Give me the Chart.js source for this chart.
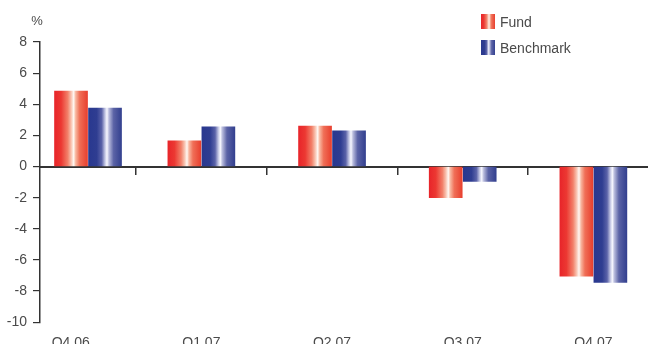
<!DOCTYPE html>
<html>
<head>
<meta charset="utf-8">
<script src="https://cdn.jsdelivr.net/npm/chart.js@4/dist/chart.umd.min.js"></script>
<style>
  html, body { margin: 0; padding: 0; background: #fff; overflow: hidden; }
  #wrap { position: relative; width: 648px; height: 365px; }
  #chart { display: block; }
  .legend { position: absolute; left: 481px; top: 0; font: 14px "Liberation Sans", Arial, sans-serif; color: #4a4a4a; }
  .legend .item { position: absolute; left: 0; white-space: nowrap; height: 16px; line-height: 16px; }
  .legend .swatch { position: absolute; left: 0; top: 0; width: 14px; height: 15px; }
  .legend .label { position: absolute; left: 19px; top: 0; }
</style>
</head>
<body>
<div id="wrap">
  <canvas id="chart" width="648" height="365"></canvas>
  <div class="legend">
    <div class="item" style="top:14px"><div class="swatch" id="sw0"></div><span class="label">Fund</span></div>
    <div class="item" style="top:40px"><div class="swatch" id="sw1"></div><span class="label">Benchmark</span></div>
  </div>
</div>
<script>
// Quarterly returns, %
const categories = ['Q4 06', 'Q1 07', 'Q2 07', 'Q3 07', 'Q4 07'];
const fund = [4.85, 1.65, 2.6, -2.0, -7.05];
const benchmark = [3.75, 2.55, 2.3, -0.95, -7.45];
const seriesNames = ['Fund', 'Benchmark'];
const yTicks = [-10, -8, -6, -4, -2, 0, 2, 4, 6, 8];

const TEXT = '#4a4a4a';
const AXIS = '#333';
const FONT = '"Liberation Sans", Arial, sans-serif';

// Horizontal sheen for each series: strong colour at the edges, a bright stripe just right of centre
const sheen = [
  [[0, '#e8252a'], [0.2, '#ec3832'], [0.4, '#f28069'], [0.5, '#f8bfac'], [0.58, '#fff8f3'],
   [0.64, '#f8b7a0'], [0.76, '#f06f57'], [1, '#e8402f']],
  [[0, '#29388f'], [0.25, '#2f3d91'], [0.4, '#5a62a8'], [0.5, '#c4c7e4'], [0.56, '#f8f8ff'],
   [0.62, '#b8bbdc'], [0.76, '#5b63a6'], [1, '#33408f']]
];

// Slot axis: the value axis crosses inside the first quarter's slot
const SLOT_MIN = -0.235;
const SLOT_MAX = 4.418;
// first pair sits centred in the part of its slot right of the value axis
const slots = categories.map((c, i) => i === 0 ? (SLOT_MIN + 0.5) / 2 : i);
const boundaries = categories.slice(1).map((c, i) => i + 0.5);

const toPoints = arr => arr.map((v, i) => ({ x: slots[i], y: v }));

// legend swatches share the bar sheen
sheen.forEach((stops, i) => {
  document.getElementById('sw' + i).style.background =
    'linear-gradient(to right, ' + stops.map(s => s[1] + ' ' + (s[0] * 100) + '%').join(', ') + ')';
});

const sheenPlugin = {
  id: 'barSheen',
  beforeDatasetsDraw(chart) {
    const ctx = chart.ctx;
    chart.data.datasets.forEach((ds, di) => {
      chart.getDatasetMeta(di).data.forEach(bar => {
        const { x, width } = bar.getProps(['x', 'width'], true);
        const g = ctx.createLinearGradient(x - width / 2, 0, x + width / 2, 0);
        sheen[di].forEach(([o, c]) => g.addColorStop(o, c));
        bar.options.backgroundColor = g;
      });
    });
  }
};

const unitPlugin = {
  id: 'unitLabel',
  afterDraw(chart) {
    const y = chart.scales.y;
    const ctx = chart.ctx;
    ctx.save();
    ctx.font = '13px ' + FONT;
    ctx.fillStyle = TEXT;
    ctx.textAlign = 'center';
    ctx.textBaseline = 'middle';
    ctx.fillText('%', y.right - 3, y.top - 21);
    ctx.restore();
  }
};

new Chart(document.getElementById('chart'), {
  type: 'bar',
  data: {
    datasets: [
      { label: seriesNames[0], data: toPoints(fund), backgroundColor: () => sheen[0][0][1] },
      { label: seriesNames[1], data: toPoints(benchmark), backgroundColor: () => sheen[1][0][1] }
    ]
  },
  options: {
    responsive: false,
    animation: false,
    events: [],
    borderWidth: 0,
    barThickness: 34,
    maxBarThickness: 33,
    layout: { padding: { top: 42, right: 0, bottom: 0, left: 0 } },
    plugins: { legend: { display: false }, tooltip: { enabled: false } },
    scales: {
      x: {
        type: 'linear',
        position: 'bottom',
        min: SLOT_MIN,
        max: SLOT_MAX,
        offset: false,
        grid: { display: false, offset: false, drawTicks: false },
        border: { display: false },
        afterBuildTicks: s => { s.ticks = categories.map((c, i) => ({ value: i })); },
        ticks: {
          padding: 13,
          autoSkip: false,
          maxRotation: 0,
          color: TEXT,
          font: { family: FONT, size: 14 },
          callback: v => categories[v]
        }
      },
      x2: {
        type: 'linear',
        axis: 'x',
        position: { y: 0 },
        z: 1,
        min: SLOT_MIN,
        max: SLOT_MAX,
        offset: false,
        afterFit: s => { s.height = 0; },
        afterBuildTicks: s => { s.ticks = boundaries.map(v => ({ value: v })); },
        ticks: { display: false },
        grid: { offset: false, drawOnChartArea: false, drawTicks: true, tickLength: 7, color: AXIS, lineWidth: 1.5 },
        border: { display: true, color: AXIS, width: 2 }
      },
      y: {
        type: 'linear',
        position: 'left',
        min: -10,
        max: 8,
        afterFit: s => { s.width = 40; },
        afterBuildTicks: s => { s.ticks = yTicks.map(v => ({ value: v })); },
        grid: { drawOnChartArea: false, drawTicks: true, tickLength: 7, color: AXIS, lineWidth: 1.2 },
        border: { display: true, color: AXIS, width: 1.5 },
        ticks: {
          padding: 6,
          color: TEXT,
          font: { family: FONT, size: 14 },
          callback: v => String(v)
        }
      }
    }
  },
  plugins: [sheenPlugin, unitPlugin]
});
</script>
</body>
</html>
